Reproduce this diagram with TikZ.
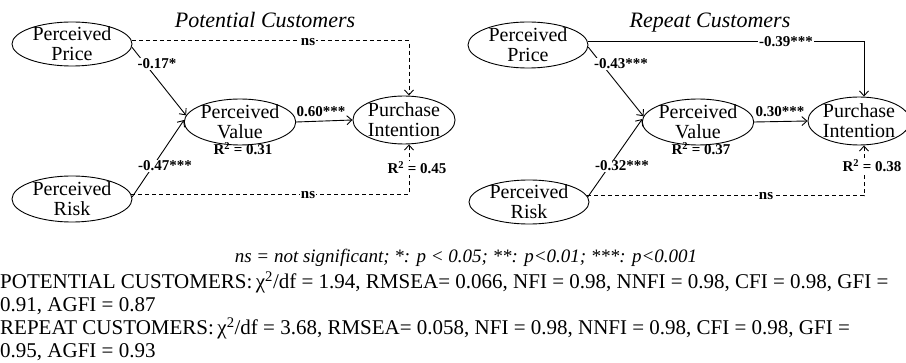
\documentclass[tikz,border=0pt]{standalone}
\usepackage{fontspec}
\setmainfont{Liberation Serif}
\usetikzlibrary{shapes.geometric,arrows.meta,calc}
\tikzset{
  construct/.style={draw,ellipse,line width=0.9pt,inner xsep=0pt,inner ysep=-6pt,align=center,
    font=\fontsize{20}{20}\selectfont,minimum width=120pt,minimum height=44pt},
  coef/.style={font=\fontsize{15}{17}\selectfont\bfseries,inner sep=1pt,fill=white},
  coefnf/.style={font=\fontsize{15}{17}\selectfont\bfseries,inner sep=0pt},
  path/.style={line width=0.9pt,-{Straight Barb[length=5pt,width=9pt,line width=0.9pt]}},
  nspath/.style={path,dashed,dash pattern=on 4pt off 3pt},
  paneltitle/.style={font=\fontsize{22}{24}\selectfont\itshape,anchor=base,inner sep=0pt},
  fitline/.style={font=\fontsize{21}{23}\selectfont,anchor=base west,inner sep=0pt}
}
\begin{document}
\begin{tikzpicture}[x=1pt,y=-1pt]
\useasboundingbox (0,0) rectangle (906,363);
% ---------- left panel ----------
\node[paneltitle] (t1) at (265,28) {Potential Customers};
\node[construct] (pp) at (72,44) {Perceived\\Price};
\node[construct,minimum height=46pt] (pr) at (72,199) {Perceived\\Risk};
\node[construct,minimum width=110pt,minimum height=46pt] (pv) at (240,122) {Perceived\\Value};
\node[construct,minimum width=92pt,minimum height=48pt] (pi) at (404,120) {Purchase\\Intention};
\draw[nspath] (pp.3) -| ([xshift=5pt]pi.north);
\draw[nspath] (pr.4) -| ([xshift=5pt]pi.south);
\draw[path] (pp.-3) -- (pv.173);
\draw[path] (pr.2) -- (pv.178);
\draw[path] (pv.east) -- (pi.west);
\node[coef] (a1) at (157,64) {-0.17*};
\node[coef] (a2) at (165,166) {-0.47***};
\node[coefnf] (a3) at (321,112) {0.60***};
\node[coef] (a4) at (308,42) {ns};
\node[coef] (a5) at (308,195) {ns};
\node[coefnf,anchor=base] (a6) at (243,155) {R\textsuperscript{2} = 0.31};
\node[coef] (a7) at (417,168) {R\textsuperscript{2} = 0.45};
% ---------- right panel ----------
\node[paneltitle] (t2) at (710,28) {Repeat Customers};
\node[construct,minimum height=46pt] (qp) at (528,45) {Perceived\\Price};
\node[construct] (qr) at (529,202) {Perceived\\Risk};
\node[construct,minimum width=110pt,minimum height=46pt] (qv) at (698,122) {Perceived\\Value};
\node[construct,minimum width=92pt,minimum height=48pt] (qi) at (859,121) {Purchase\\Intention};
\draw[path] (qp.3) -| ([xshift=5pt]qi.north);
\draw[nspath] (qr.6) -| ([xshift=5pt]qi.south);
\draw[path] (qp.-2) -- (qv.174);
\draw[path] (qr.5) -- (qv.177);
\draw[path] (qv.east) -- (qi.west);
\node[coef] (b1) at (621,64) {-0.43***};
\node[coef] (b2) at (622,166) {-0.32***};
\node[coefnf] (b3) at (780,112) {0.30***};
\node[coef] (b4) at (786,42) {-0.39***};
\node[coef] (b5) at (766,196) {ns};
\node[coefnf,anchor=base] (b6) at (701,155) {R\textsuperscript{2} = 0.37};
\node[coef] (b7) at (872,166) {R\textsuperscript{2} = 0.38};
% ---------- notes ----------
\node[font=\fontsize{19}{21}\selectfont\itshape,anchor=base,inner sep=0pt] (n0) at (466,263)
  {ns = not significant; *: p < 0.05; **: p<0.01; ***: p<0.001};
\node[fitline] (n1) at (0,289) {POTENTIAL CUSTOMERS:\,χ\textsuperscript{2}/df = 1.94, RMSEA= 0.066, NFI = 0.98, NNFI = 0.98, CFI = 0.98, GFI =};
\node[fitline] (n2) at (0,312) {0.91, AGFI = 0.87};
\node[fitline] (n3) at (0,335) {REPEAT CUSTOMERS:\,χ\textsuperscript{2}/df = 3.68, RMSEA= 0.058, NFI = 0.98, NNFI = 0.98, CFI = 0.98, GFI =};
\node[fitline] (n4) at (0,358) {0.95, AGFI = 0.93};
\end{tikzpicture}
\end{document}
